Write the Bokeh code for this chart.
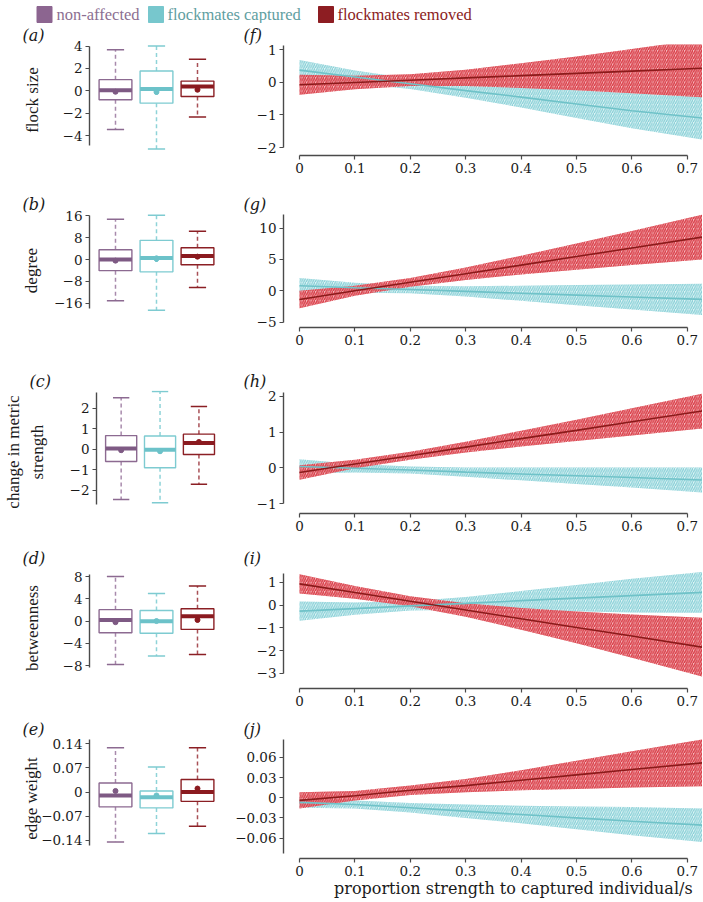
from bokeh.plotting import figure
from bokeh.layouts import column, row
from bokeh.models import (Range1d, FixedTicker, CustomJSTickFormatter, ColumnDataSource,
                          LinearAxis)
from bokeh.core.properties import value
from bokeh.embed import file_html
from bokeh.resources import INLINE

FONT = "Liberation Serif"      # vertical axis titles, legend
HFONT = "DejaVu Serif"         # tick labels and other horizontal texts

# ---------------- data ----------------
groups = ["non-affected", "flockmates captured", "flockmates removed"]
box_pos = [1, 2, 3]

box_a = dict(upper=[3.67, 4.0, 2.83], q3=[1.0, 1.78, 0.87], med=[0.05, 0.17, 0.39],
             q1=[-0.8, -1.1, -0.5], lower=[-3.45, -5.2, -2.33],
             mean=[-0.08, -0.1, 0.1], se=[0.08, 0.25, 0.12])
box_b = dict(upper=[14.7, 16.1, 10.3], q3=[3.55, 7.0, 4.3], med=[0.0, 0.6, 1.25],
             q1=[-4.05, -4.5, -1.9], lower=[-15.0, -18.5, -10.2],
             mean=[-0.4, 0.3, 1.05], se=[0.3, 1.2, 0.6])
box_c = dict(upper=[2.5, 2.8, 2.07], q3=[0.66, 0.64, 0.73], med=[0.03, -0.03, 0.3],
             q1=[-0.6, -0.9, -0.26], lower=[-2.45, -2.6, -1.7],
             mean=[-0.05, -0.1, 0.35], se=[0.03, 0.1, 0.08])
box_d = dict(upper=[8.0, 4.95, 6.3], q3=[2.05, 1.9, 2.2], med=[0.2, -0.05, 0.85],
             q1=[-2.1, -2.2, -1.5], lower=[-7.8, -6.3, -6.0],
             mean=[-0.2, 0.0, 0.2], se=[0.1, 0.3, 0.4])
box_e = dict(upper=[0.128, 0.072, 0.128], q3=[0.026, 0.003, 0.036], med=[-0.01, -0.015, 0.0],
             q1=[-0.043, -0.046, -0.027], lower=[-0.145, -0.12, -0.099],
             mean=[0.003, -0.01, 0.01], se=[0.004, 0.003, 0.004])

x_prop = [0.0, 0.1, 0.2, 0.3, 0.4, 0.5, 0.6, 0.73]
x_ticks = [0, 0.1, 0.2, 0.3, 0.4, 0.5, 0.6, 0.7]

f_removed_fit = [-0.07, 0.0, 0.07, 0.14, 0.21, 0.28, 0.35, 0.44]
f_removed_hw = [0.31, 0.21, 0.18, 0.25, 0.38, 0.52, 0.68, 0.9]
f_captured_fit = [0.38, 0.17, -0.04, -0.25, -0.45, -0.66, -0.87, -1.1]
f_captured_hw = [0.31, 0.2, 0.16, 0.22, 0.32, 0.43, 0.54, 0.66]

g_removed_fit = [-1.37, 0.0, 1.36, 2.73, 4.1, 5.46, 6.83, 8.6]
g_removed_hw = [1.4, 0.8, 0.7, 1.0, 1.5, 2.1, 2.7, 3.6]
g_captured_fit = [0.8, 0.5, 0.21, -0.09, -0.39, -0.69, -0.98, -1.37]
g_captured_hw = [1.25, 0.8, 0.6, 0.8, 1.2, 1.6, 2.0, 2.5]

h_removed_fit = [-0.13, 0.11, 0.34, 0.58, 0.82, 1.05, 1.29, 1.6]
h_removed_hw = [0.2, 0.12, 0.11, 0.15, 0.22, 0.3, 0.38, 0.49]
h_captured_fit = [0.04, -0.01, -0.06, -0.12, -0.17, -0.22, -0.27, -0.34]
h_captured_hw = [0.2, 0.12, 0.1, 0.13, 0.18, 0.23, 0.28, 0.35]

i_removed_fit = [0.94, 0.56, 0.17, -0.21, -0.6, -0.98, -1.36, -1.86]
i_removed_hw = [0.42, 0.28, 0.22, 0.3, 0.48, 0.7, 0.95, 1.3]
i_captured_fit = [-0.26, -0.15, -0.03, 0.08, 0.2, 0.31, 0.42, 0.57]
i_captured_hw = [0.42, 0.27, 0.2, 0.28, 0.42, 0.58, 0.74, 0.9]

j_removed_fit = [-0.004, 0.003, 0.011, 0.018, 0.026, 0.034, 0.042, 0.052]
j_removed_hw = [0.012, 0.007, 0.007, 0.01, 0.015, 0.021, 0.027, 0.035]
j_captured_fit = [-0.007, -0.01, -0.015, -0.02, -0.025, -0.03, -0.035, -0.041]
j_captured_hw = [0.008, 0.006, 0.007, 0.01, 0.013, 0.017, 0.021, 0.025]

ticks_a = [-4, -2, 0, 2, 4]
ticks_b = [-16, -8, 0, 8, 16]
ticks_c = [-2, -1, 0, 1, 2]
ticks_d = [-8, -4, 0, 4, 8]
ticks_e = [-0.14, -0.07, 0, 0.07, 0.14]
ticks_f = [-2, -1, 0, 1]
ticks_g = [-5, 0, 5, 10]
ticks_h = [-1, 0, 1, 2]
ticks_i = [-3, -2, -1, 0, 1]
ticks_j = [-0.06, -0.03, 0, 0.03, 0.06]

x_title = "proportion strength to captured individual/s"

# ---------------- styles ----------------
legend_colors = ["#8c6590", "#77c7cd", "#8d1d22"]
legend_text_colors = ["#8c6f92", "#5f9ea1", "#8b1c22"]
box_line = ["#8c6a91", "#7ecbd1", "#8b1f24"]
box_median = ["#7e5a84", "#6cc2c9", "#8b1a1f"]
box_whisk = ["#a88aac", "#8fd3d8", "#a85056"]
AX = "#4a4a4a"
TXT = "#1a1a1a"

TOTAL_W = 702
LEFT_W = 225
RIGHT_W = TOTAL_W - LEFT_W
LX0, LPX = 0.366, 41.0          # box panels: x value at frame left, px per unit
RX0, RPX = -0.0289, 554.0        # regression panels
R_FRAME_W = TOTAL_W - 283

fmt_code = "return (tick < 0 ? '\\u2212' : '') + Math.abs(tick);"


def style_axis(ax, ticks, bounds):
    ax.ticker = FixedTicker(ticks=ticks)
    ax.formatter = CustomJSTickFormatter(code=fmt_code)
    ax.bounds = bounds
    ax.axis_line_color = AX
    ax.axis_line_width = 1.4
    ax.major_tick_line_color = AX
    ax.major_tick_line_width = 1.2
    ax.major_tick_out = 4
    ax.major_tick_in = 0
    ax.minor_tick_line_color = None
    ax.major_label_text_font = HFONT
    ax.major_label_text_font_size = "13.5px"
    ax.major_label_text_color = TXT
    ax.major_label_standoff = 3


def label_axis(ax, text, standoff, font=FONT, size="17px"):
    ax.axis_label = text
    ax.axis_label_text_font = font
    ax.axis_label_text_font_size = size
    ax.axis_label_text_font_style = "normal"
    ax.axis_label_text_color = TXT
    ax.axis_label_standoff = standoff


def title_only_axis(p, side, text, standoff, font=FONT, size="17px"):
    ax = LinearAxis(ticker=FixedTicker(ticks=[]), axis_line_color=None,
                    major_tick_out=0, major_tick_in=0, major_label_standoff=0,
                    minor_tick_line_color=None, major_tick_line_color=None)
    label_axis(ax, text, standoff, font, size)
    p.add_layout(ax, side)


def panel_title(p, letter, offset):
    p.title.text = "(" + letter + ")"
    p.title.align = "left"
    p.title.offset = offset
    p.title.standoff = 0
    p.title.text_font = HFONT
    p.title.text_font_size = "16px"
    p.title.text_font_style = "italic"
    p.title.text_color = TXT


def box_fig(box, ylabel, ticks, zero, ppu, ftop, fbot, bounds, rtop, rh, standoff, letter,
            extra_label=None):
    y_end = (zero - ftop) / ppu
    y_start = (zero - fbot) / ppu
    p = figure(width=LEFT_W, height=rh, x_range=Range1d(LX0, LX0 + 136 / LPX),
               y_range=Range1d(y_start, y_end), x_axis_location=None,
               toolbar_location=None, output_backend="svg",
               min_border_left=89, min_border_right=0,
               min_border_top=ftop - rtop, min_border_bottom=rtop + rh - fbot)
    p.outline_line_color = None
    p.grid.grid_line_color = None
    ax = p.yaxis[0]
    style_axis(ax, ticks, bounds)
    label_axis(ax, ylabel, standoff)
    if extra_label:
        title_only_axis(p, "left", extra_label[0], extra_label[1])

    src = ColumnDataSource(dict(
        x=box_pos, x0=[v - 0.21 for v in box_pos], x1=[v + 0.21 for v in box_pos],
        xl=[v - 0.4 for v in box_pos], xr=[v + 0.4 for v in box_pos],
        upper=box["upper"], q3=box["q3"], med=box["med"], q1=box["q1"], lower=box["lower"],
        mean=box["mean"], mlo=[m - s for m, s in zip(box["mean"], box["se"])],
        mhi=[m + s for m, s in zip(box["mean"], box["se"])],
        lc=box_line, mc=box_median, wc=box_whisk))
    p.segment("x", "q3", "x", "upper", source=src, line_color="wc", line_width=1.5, line_dash="4 3")
    p.segment("x", "q1", "x", "lower", source=src, line_color="wc", line_width=1.5, line_dash="4 3")
    p.segment("x0", "upper", "x1", "upper", source=src, line_color="lc", line_width=1.5)
    p.segment("x0", "lower", "x1", "lower", source=src, line_color="lc", line_width=1.5)
    p.vbar(x="x", width=0.8, bottom="q1", top="q3", source=src, fill_color="white",
           line_color="lc", line_width=1.4)
    p.segment("xl", "med", "xr", "med", source=src, line_color="mc", line_width=4)
    p.segment("x", "mlo", "x", "mhi", source=src, line_color="mc", line_width=2.5)
    p.scatter("x", "mean", source=src, size=5, color="mc")
    panel_title(p, letter, 22 - 89)
    return p


def line_fig(rem_fit, rem_hw, cap_fit, cap_hw, ticks, zero, ppu, ftop, axy, bounds, rtop, rh,
             letter, xtitle=None):
    y_end = (zero - ftop) / ppu
    y_start = (zero - axy) / ppu
    p = figure(width=RIGHT_W, height=rh, x_range=Range1d(RX0, RX0 + R_FRAME_W / RPX),
               y_range=Range1d(y_start, y_end), toolbar_location=None, output_backend="svg",
               min_border_left=283 - LEFT_W, min_border_right=0,
               min_border_top=ftop - rtop, min_border_bottom=rtop + rh - axy)
    p.outline_line_color = None
    p.grid.grid_line_color = None
    style_axis(p.yaxis[0], ticks, bounds)
    style_axis(p.xaxis[0], x_ticks, (0, 0.7))
    p.xaxis[0].major_label_standoff = 3
    if xtitle:
        # leading no-break spaces shift the centred title to the reference position
        title_only_axis(p, "below", "\u00a0" * 8 + xtitle, 0, font=HFONT, size="16px")

    cap_lo = [f - h for f, h in zip(cap_fit, cap_hw)]
    cap_hi = [f + h for f, h in zip(cap_fit, cap_hw)]
    rem_lo = [f - h for f, h in zip(rem_fit, rem_hw)]
    rem_hi = [f + h for f, h in zip(rem_fit, rem_hw)]
    p.varea(x=x_prop, y1=cap_lo, y2=cap_hi, fill_color="#e0f4f6", fill_alpha=1.0,
            hatch_pattern="/", hatch_color="#84ced5", hatch_scale=4.5, hatch_weight=1.2)
    p.varea(x=x_prop, y1=rem_lo, y2=rem_hi, fill_color="#f4b3b7", fill_alpha=0.88,
            hatch_pattern="/", hatch_color="#d6303b", hatch_scale=4.5, hatch_weight=1.4,
            hatch_alpha=0.92)
    p.line(x_prop, cap_fit, line_color="#6fc2c8", line_width=1.6)
    p.line(x_prop, rem_fit, line_color="#8b1a1a", line_width=1.6)
    panel_title(p, letter, 243 - 283)
    return p


# ---------------- legend ----------------
LEG_H = 23
leg = figure(width=TOTAL_W, height=LEG_H, x_range=Range1d(0, TOTAL_W),
             y_range=Range1d(0, LEG_H), min_border=0, toolbar_location=None,
             output_backend="svg", x_axis_location=None, y_axis_location=None)
leg.outline_line_color = None
leg.grid.grid_line_color = None
leg.rect(x=[44, 155.5, 325.5], y=LEG_H - 14, width=15, height=16, color=legend_colors)
leg.text(x=[56, 167, 337], y=LEG_H - 14, text=groups, text_font=value(FONT),
         text_font_size="16.5px", text_color=legend_text_colors, text_baseline="middle")

# ---------------- rows (reference pixel positions) ----------------
pa = box_fig(box_a, "flock size", ticks_a, 90.7, 12.0, 41, 160, (-4.85, 4.0), 23, 169, 18, "a")
pf = line_fig(f_removed_fit, f_removed_hw, f_captured_fit, f_captured_hw, ticks_f, 80, 33.4, 41, 155,
              (-2, 1.15), 23, 169, "f")
pb = box_fig(box_b, "degree", ticks_b, 265.7, 3.2, 212, 345, (-17.9, 16.2), 192, 177, 10, "b")
pg = line_fig(g_removed_fit, g_removed_hw, g_captured_fit, g_captured_hw, ticks_g, 290, 6.33, 212, 327,
              (-5, 12.1), 192, 177, "g")
pc = box_fig(box_c, "strength", ticks_c, 451.5, 21.9, 389, 520, (-2.7, 2.75), 369, 177,
             20, "c", extra_label=("change in metric", 2))
ph = line_fig(h_removed_fit, h_removed_hw, h_captured_fit, h_captured_hw, ticks_h, 467, 36.0, 389, 513,
              (-1, 2.1), 369, 177, "h")
pd = box_fig(box_d, "betweenness", ticks_d, 625.3, 6.16, 566, 700, (-8.3, 8.3), 546, 171, 18, "d")
pi = line_fig(i_removed_fit, i_removed_hw, i_captured_fit, i_captured_hw, ticks_i, 604, 22.9, 566, 688,
              (-3, 1.4), 546, 171, "i")
pe = box_fig(box_e, "edge weight", ticks_e, 796.3, 383.0, 737, 870, (-0.155, 0.152), 717, 183, -3, "e")
pj = line_fig(j_removed_fit, j_removed_hw, j_captured_fit, j_captured_hw, ticks_j, 796.7, 678.0, 737, 858,
              (-0.083, 0.086), 717, 183, "j", xtitle=x_title)

layout = column(leg, row(pa, pf), row(pb, pg), row(pc, ph), row(pd, pi), row(pe, pj))
open("out.html", "w").write(file_html(layout, INLINE))
